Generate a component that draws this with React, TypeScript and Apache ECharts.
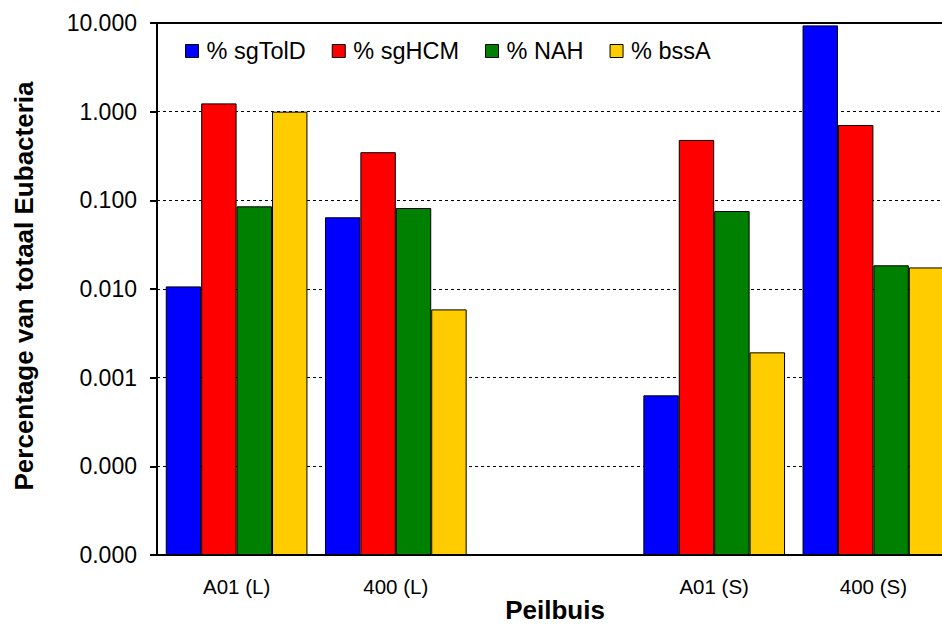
import React, { useEffect, useRef } from "react";
import * as echarts from "echarts";

// Sampling wells (the middle slot is intentionally empty)
const categories = ["A01 (L)", "400 (L)", "", "A01 (S)", "400 (S)"];

// Percentage of total Eubacteria per gene
const sgTolD = [0.0107, 0.0644, null, 0.000632, 9.4];
const sgHCM = [1.24, 0.349, null, 0.48, 0.708];
const nah = [0.0856, 0.0819, null, 0.0758, 0.0185];
const bssA = [1.0, 0.00589, null, 0.00193, 0.0175];

const seriesNames = ["% sgTolD", "% sgHCM", "% NAH", "% bssA"];
const seriesColors = ["#0000ff", "#ff0000", "#008000", "#ffcc00"];

// Log-axis labels from 1e-5 up to 10
const yTickLabels = ["0.000", "0.000", "0.001", "0.010", "0.100", "1.000", "10.000"];

const xTitle = "Peilbuis";
const yTitle = "Percentage van totaal Eubacteria";

const FONT = "Liberation Sans, Arial, sans-serif";
const TITLE_FONT = `bold 26px ${FONT}`;

export default function App() {
  const ref = useRef<HTMLDivElement>(null);

  useEffect(() => {
    if (!ref.current) return;
    const chart = echarts.init(ref.current, null, { renderer: "svg" });
    const data = [sgTolD, sgHCM, nah, bssA];

    chart.setOption({
      animation: false,
      backgroundColor: "#ffffff",
      textStyle: { fontFamily: FONT },
      grid: {
        left: 157,
        top: 23,
        width: 796,
        bottom: 70,
        outerBoundsMode: "none",
        containLabel: false,
        show: true,
        borderColor: "#000",
        borderWidth: 2,
        backgroundColor: "transparent",
      },
      legend: {
        left: 180,
        top: 34,
        itemWidth: 13,
        itemHeight: 13,
        itemGap: 26,
        icon: "rect",
        textStyle: { fontFamily: FONT, fontSize: 23.5, color: "#000", padding: [0, 0, 0, 3] },
        data: seriesNames.map((n) => ({
          name: n,
          itemStyle: { borderColor: "#000", borderWidth: 1 },
        })),
      },
      // Axis titles placed as free text
      graphic: [
        {
          type: "text",
          x: 555,
          y: 610,
          style: {
            text: xTitle,
            font: TITLE_FONT,
            fill: "#000",
            textAlign: "center",
            textVerticalAlign: "middle",
          },
        },
        {
          type: "text",
          x: 24,
          y: 286,
          rotation: Math.PI / 2,
          style: {
            text: yTitle,
            font: TITLE_FONT,
            fill: "#000",
            textAlign: "center",
            textVerticalAlign: "middle",
          },
        },
      ],
      xAxis: {
        type: "category",
        data: categories,
        axisLine: { lineStyle: { color: "#000", width: 2 } },
        axisTick: { length: 7, lineStyle: { color: "#000", width: 2 } },
        axisLabel: { fontFamily: FONT, fontSize: 20.5, color: "#000", margin: 21 },
      },
      yAxis: {
        type: "log",
        logBase: 10,
        min: 0.00001,
        max: 10,
        startValue: 0.00001,
        axisLine: { show: true, lineStyle: { color: "#000", width: 2 } },
        axisTick: { show: true, length: 7, lineStyle: { color: "#000", width: 2 } },
        axisLabel: {
          fontFamily: FONT,
          fontSize: 23,
          color: "#000",
          margin: 20,
          formatter: (v: number) => {
            const i = Math.round(Math.log10(v)) + 5;
            return yTickLabels[i] ?? "";
          },
        },
        splitLine: {
          show: true,
          lineStyle: { color: "#000", width: 1, type: [3, 3] },
        },
      },
      series: data.map((d, i) => ({
        type: "bar",
        name: seriesNames[i],
        data: d,
        barGap: "0%",
        barCategoryGap: "11%",
        itemStyle: { color: seriesColors[i], borderColor: "#000", borderWidth: 1 },
      })),
    });

    return () => chart.dispose();
  }, []);

  return (
    <div
      ref={ref}
      style={{ position: "absolute", left: 0, top: 0, width: 942, height: 625 }}
    />
  );
}
